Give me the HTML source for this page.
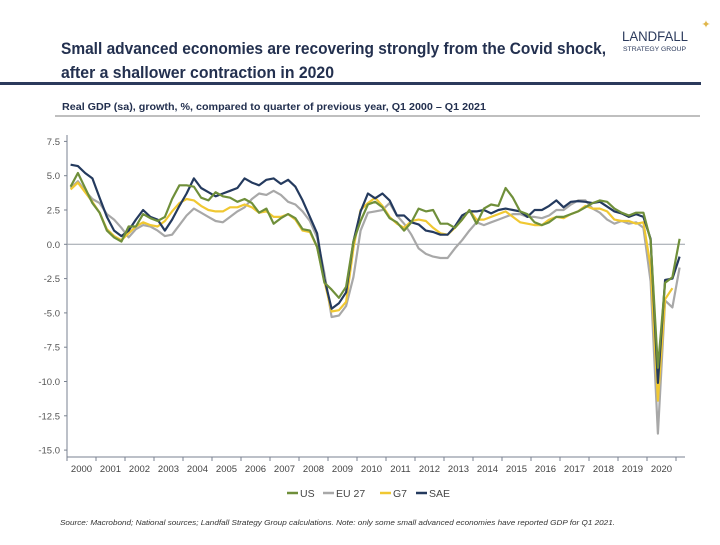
<!DOCTYPE html>
<html><head><meta charset="utf-8"><style>
body{margin:0;background:#fff;width:720px;height:540px;overflow:hidden;font-family:"Liberation Sans",sans-serif}
</style></head><body>
<svg width="720" height="540" viewBox="0 0 720 540" xmlns="http://www.w3.org/2000/svg">
<text x="61" y="54" font-size="17" font-weight="bold" fill="#23304f" textLength="545" lengthAdjust="spacingAndGlyphs">Small advanced economies are recovering strongly from the Covid shock,</text>
<text x="61" y="78" font-size="17" font-weight="bold" fill="#23304f" textLength="273" lengthAdjust="spacingAndGlyphs">after a shallower contraction in 2020</text>
<text x="622" y="41" font-size="14" fill="#2b3a5c" textLength="66" lengthAdjust="spacingAndGlyphs">LANDFALL</text>
<text x="623" y="51" font-size="6.5" fill="#2b3a5c" textLength="63" lengthAdjust="spacingAndGlyphs">STRATEGY GROUP</text>
<text x="706" y="28" font-size="11" fill="#e0b64a" text-anchor="middle">✦</text>
<rect x="0" y="82" width="701" height="3" fill="#2b3a5c"/>
<text x="62" y="110" font-size="10" font-weight="bold" fill="#23304f" textLength="424" lengthAdjust="spacingAndGlyphs">Real GDP (sa), growth, %, compared to quarter of previous year, Q1 2000 – Q1 2021</text>
<line x1="55" y1="116" x2="700" y2="116" stroke="#555" stroke-width="0.8"/>
<g id="axes"></g>
<g id="series"></g>
<g id="legend"></g>
<text x="60" y="525" font-size="7.5" font-style="italic" fill="#333" textLength="555" lengthAdjust="spacingAndGlyphs">Source: Macrobond;  National sources; Landfall Strategy Group calculations.  Note: only some small advanced economies have reported GDP for Q1 2021.</text>
</svg>
<script>
const years=["2000","2001","2002","2003","2004","2005","2006","2007","2008","2009","2010","2011","2012","2013","2014","2015","2016","2017","2018","2019","2020"];
const yTicks=[7.5,5.0,2.5,0.0,-2.5,-5.0,-7.5,-10.0,-12.5,-15.0];
const seriesNames=["US","EU 27","G7","SAE"];
const usValues=[4.2,5.2,4.1,3.0, 2.3,1.0,0.5,0.2, 1.3,1.3,2.2,1.9, 1.7,2.0,3.3,4.3, 4.3,4.2,3.4,3.2, 3.8,3.5,3.4,3.1, 3.3,3.0,2.3,2.6, 1.5,1.9,2.2,1.9, 1.1,1.0,-0.2,-2.8, -3.3,-3.9,-3.1,0.2,
 1.7,2.9,3.1,2.7, 1.9,1.6,1.0,1.6, 2.6,2.4,2.5,1.5, 1.5,1.2,1.8,2.5, 1.5,2.6,2.9,2.8, 4.1,3.4,2.4,2.2, 1.6,1.4,1.6,2.0, 2.0,2.2,2.4,2.7, 3.0,3.2,3.1,2.6, 2.3,2.1,2.3,2.3, 0.3,-9.0,-2.8,-2.4, 0.4];
const euValues=[4.1,4.6,3.9,3.3, 3.0,2.2,1.8,1.2, 0.5,1.1,1.4,1.3, 1.0,0.6,0.7,1.4, 2.1,2.6,2.3,2.0, 1.7,1.6,2.0,2.4, 2.7,3.3,3.7,3.6, 3.9,3.6,3.1,2.9, 2.4,1.7,0.5,-2.1, -5.3,-5.2,-4.5,-2.4,
 1.0,2.3,2.4,2.5, 3.0,2.1,1.5,0.7, -0.3,-0.7,-0.9,-1.0, -1.0,-0.3,0.3,1.0, 1.6,1.4,1.6,1.8, 2.0,2.2,2.2,2.0, 2.0,1.9,2.1,2.5, 2.5,2.9,3.2,3.2, 2.6,2.3,1.8,1.5, 1.7,1.5,1.6,1.2, -2.7,-13.8,-4.1,-4.6, -1.7];
const g7Values=[4.0,4.5,3.8,3.1, 2.3,1.1,0.6,0.3, 0.8,1.3,1.6,1.4, 1.3,1.7,2.4,3.0, 3.3,3.2,2.8,2.5, 2.4,2.4,2.7,2.7, 2.9,2.7,2.3,2.4, 2.0,2.0,2.2,1.8, 1.0,0.9,-0.2,-2.7, -4.9,-4.8,-4.2,-0.3,
 2.5,3.0,3.4,2.8, 2.0,1.5,1.2,1.7, 1.8,1.7,1.2,0.8, 0.7,1.2,1.8,2.5, 1.8,1.8,2.0,2.2, 2.4,2.0,1.6,1.5, 1.4,1.4,1.8,2.0, 1.9,2.2,2.4,2.8, 2.6,2.6,2.4,1.8, 1.7,1.7,1.5,1.6, -1.6,-11.4,-4.0,-3.2, null];
const saeValues=[5.8,5.7,5.2,4.8, 3.4,2.0,1.0,0.6, 1.0,1.8,2.5,2.0, 1.8,1.0,1.8,2.8, 3.7,4.8,4.1,3.8, 3.5,3.7,3.9,4.1, 4.8,4.5,4.3,4.7, 4.8,4.4,4.7,4.2, 3.2,2.0,0.8,-2.5, -4.7,-4.3,-3.5,0.2,
 2.4,3.7,3.35,3.7, 3.2,2.1,2.1,1.6, 1.45,1.0,0.9,0.7, 0.7,1.3,2.1,2.4, 2.4,2.5,2.25,2.5, 2.6,2.5,2.4,2.0, 2.5,2.5,2.8,3.2, 2.7,3.1,3.15,3.1, 3.0,3.1,2.75,2.4, 2.25,2.0,2.2,2.0, 0.4,-10.1,-2.6,-2.5, -0.9];
const colors=["#6f8f3a","#a8a8a8","#f0c832","#243a5e"];
const NS="http://www.w3.org/2000/svg";
const X0=67,YR=29.0,Y0=244.3,PU=13.72;
function xq(i){return X0+(i+0.5)*YR/4;}
function yv(v){return Y0-v*PU;}
function mk(tag,attrs,parent){const e=document.createElementNS(NS,tag);for(const k in attrs)e.setAttribute(k,attrs[k]);parent.appendChild(e);return e;}
const axes=document.getElementById('axes');
const ya=mk('line',{x1:X0,y1:135,x2:X0,y2:457,stroke:'#7a8290','stroke-width':1},axes);


const xa=mk('line',{x1:X0,y1:457,x2:685,y2:457,stroke:'#7a8290','stroke-width':1},axes);


const zl=mk('line',{x1:X0,y1:yv(0),x2:685,y2:yv(0),stroke:'#9aa0a8','stroke-width':1},axes);


yTicks.forEach(t=>{
  mk('line',{x1:X0-3,y1:yv(t),x2:X0,y2:yv(t),stroke:'#7a8290'},axes);
  const tx=mk('text',{x:X0-7,y:yv(t)+3.5,'font-size':9.5,fill:'#555','text-anchor':'end'},axes);
  tx.textContent=t.toFixed(1);
  
  
});
for(let k=0;k<=years.length;k++){mk('line',{x1:X0+k*YR,y1:457,x2:X0+k*YR,y2:461,stroke:'#7a8290'},axes);}
years.forEach((y,k)=>{
  const tx=mk('text',{x:X0+(k+0.5)*YR,y:472,'font-size':9.5,fill:'#444','text-anchor':'middle'},axes);
  tx.textContent=y;
  
  
});
const sg=document.getElementById('series');
const allVals=[usValues,euValues,g7Values,saeValues];
[1,2,3,0].forEach(s=>{
  let d='';let pen=false;
  allVals[s].forEach((v,i)=>{if(v===null){pen=false;return;}d+=(pen?'L':'M')+xq(i).toFixed(1)+','+yv(v).toFixed(1);pen=true;});
  const p=mk('path',{d:d,fill:'none',stroke:colors[s],'stroke-width':2.2,'stroke-linejoin':'round'},sg);
  
  
});
const lg=document.getElementById('legend');
let lx=287;
seriesNames.forEach((n,s)=>{
  const g=mk('g',{},lg);
  
  
  mk('line',{x1:lx,y1:493,x2:lx+11,y2:493,stroke:colors[s],'stroke-width':2.5},g);
  const t=mk('text',{x:lx+13,y:497,'font-size':10.5,fill:'#444'},g);
  t.textContent=n;
  lx+=13+n.length*7+9;
});
</script>
</body></html>
